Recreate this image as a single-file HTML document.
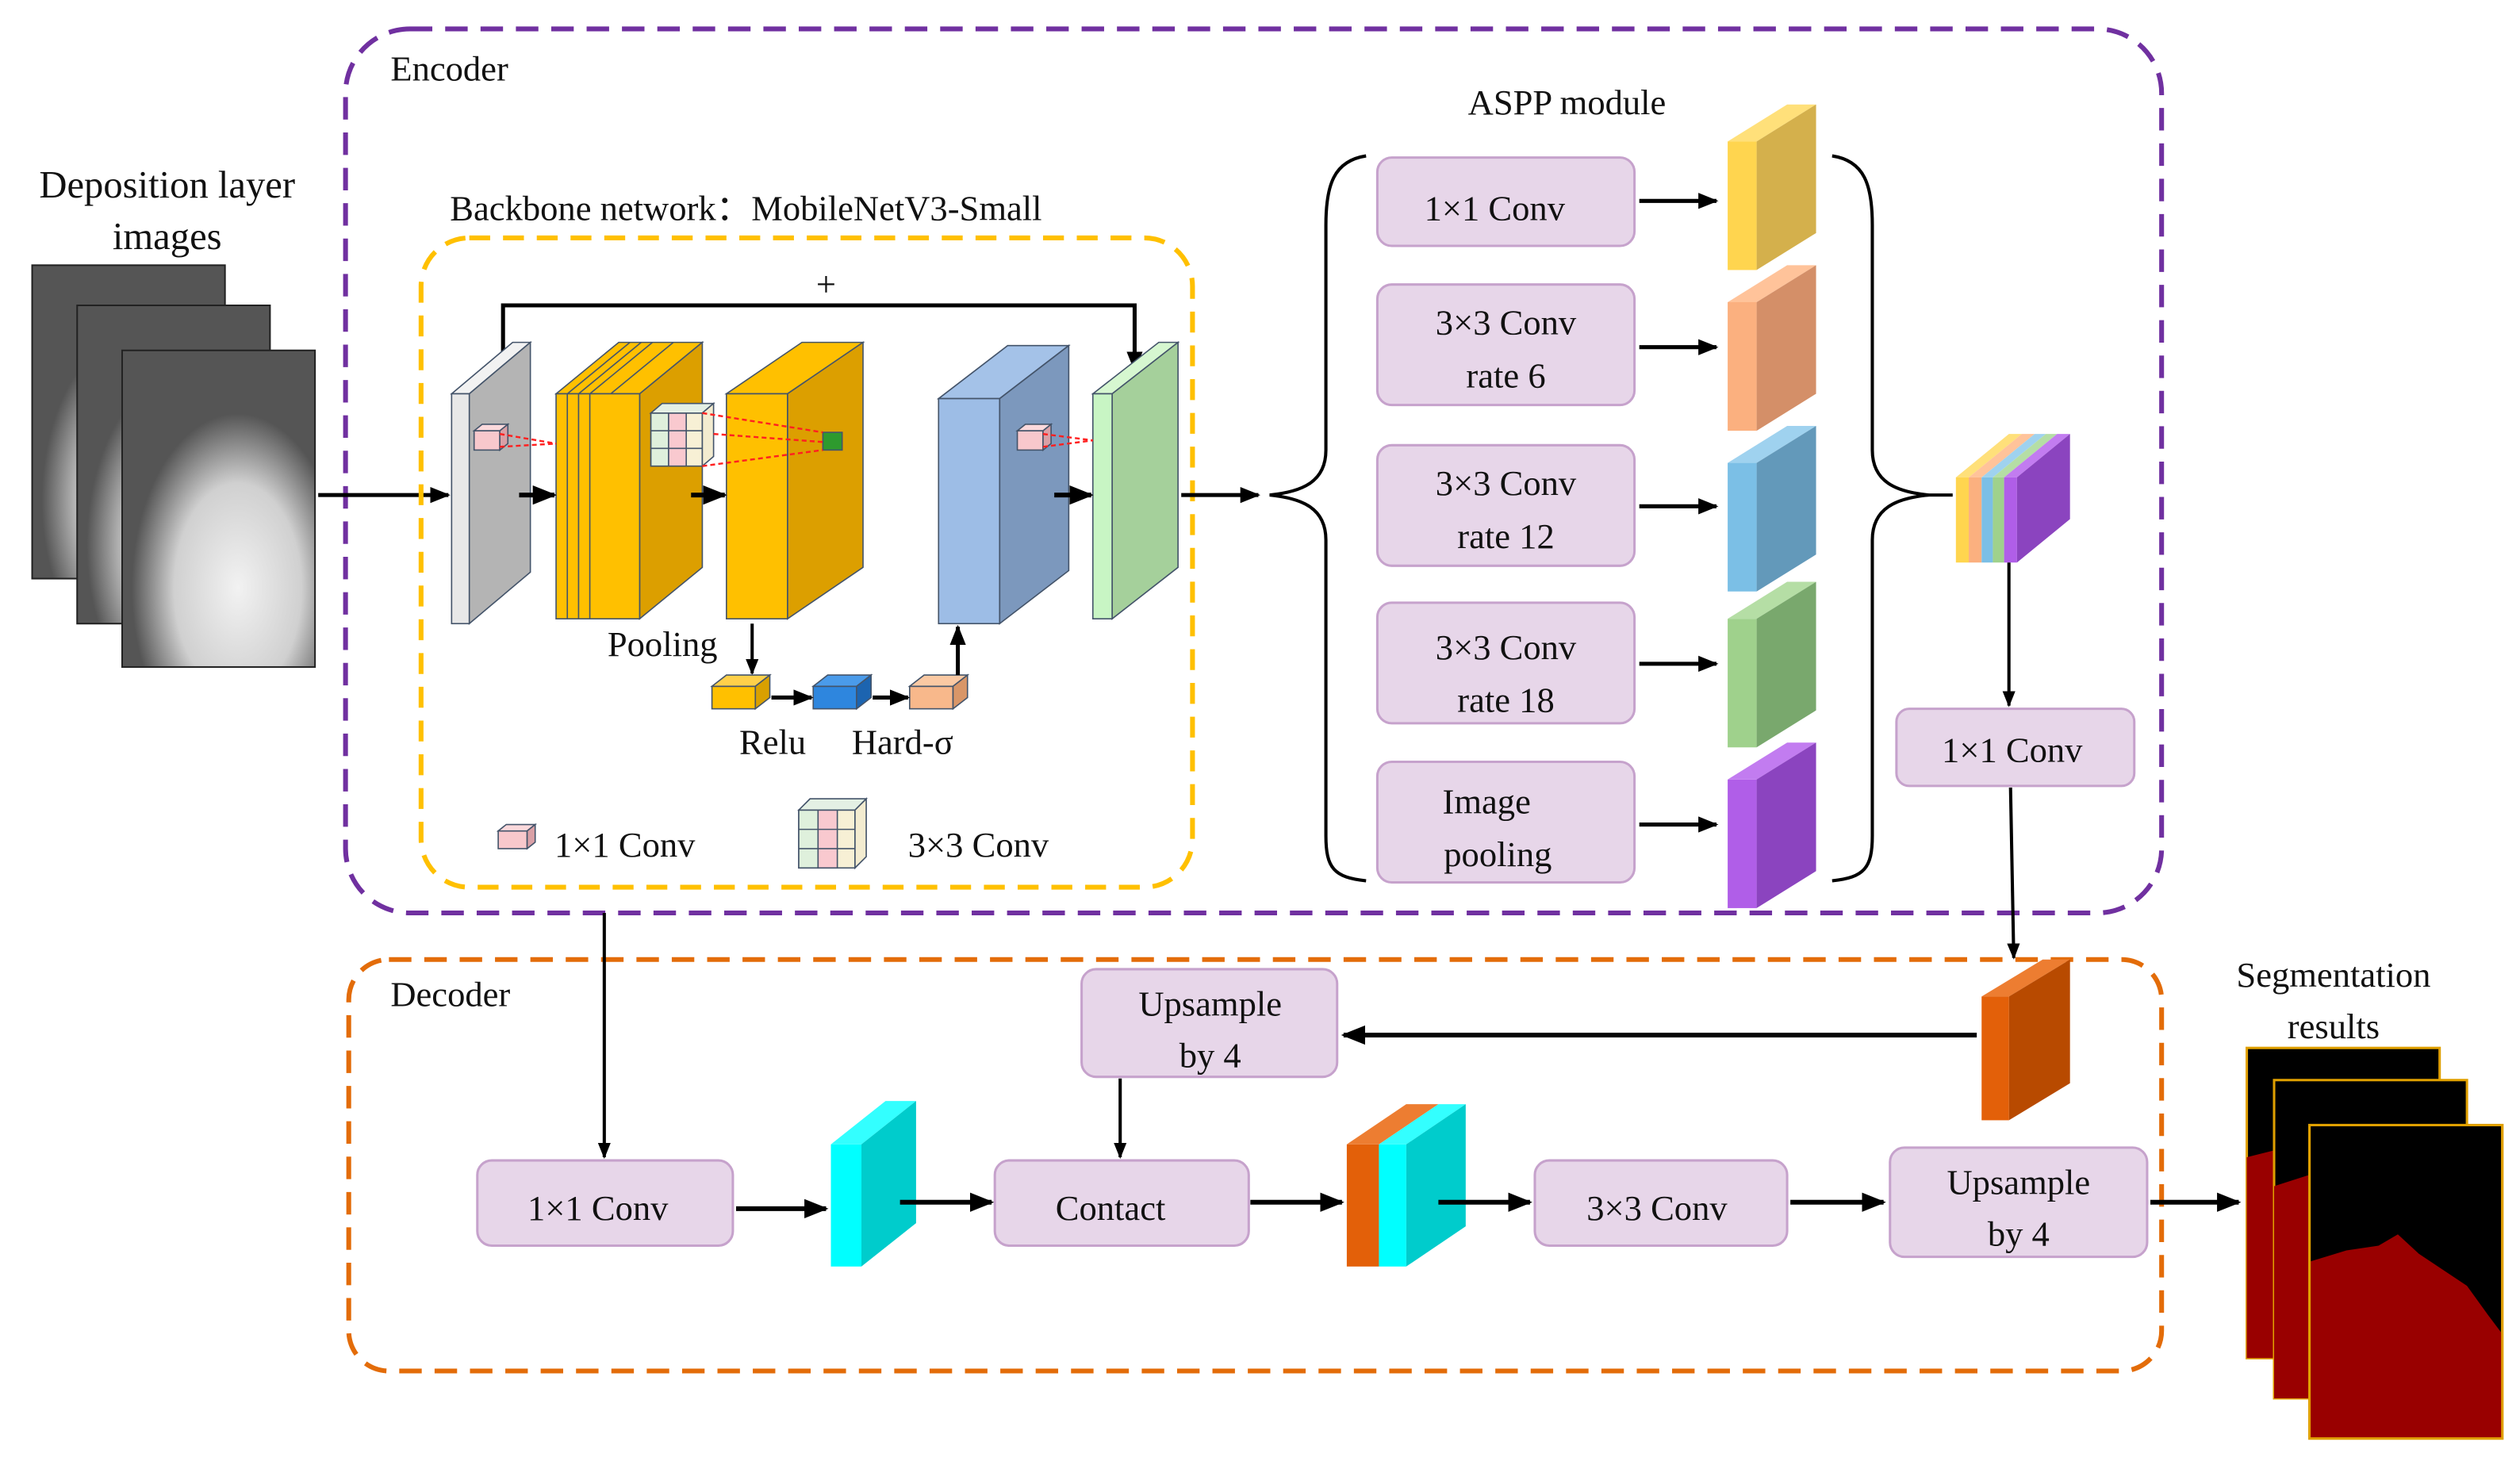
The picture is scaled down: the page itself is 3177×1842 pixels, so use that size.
<!DOCTYPE html>
<html><head><meta charset="utf-8"><style>
html,body{margin:0;padding:0;background:#fff;}
svg{display:block;}
svg text{font-family:"Liberation Serif","Times New Roman",Times,serif !important;fill:#111;}
</style></head><body>
<svg width="3177" height="1842" viewBox="0 0 1568 909" preserveAspectRatio="none" xmlns="http://www.w3.org/2000/svg" font-family="Liberation Serif, Times New Roman, serif">
<defs>
<marker id="a" viewBox="0 0 10 10" refX="9" refY="5" markerWidth="5" markerHeight="5" orient="auto"><path d="M0,1 L10,5 L0,9 z" fill="#000"/></marker>
<radialGradient id="blob" cx="0.6" cy="0.75" r="0.55"><stop offset="0" stop-color="#f2f2f2"/><stop offset="0.6" stop-color="#d0d0d0"/><stop offset="1" stop-color="#555"/></radialGradient>
</defs>

<rect x="215" y="18" width="1130" height="550" rx="40" fill="none" stroke="#7030a0" stroke-width="3" stroke-dasharray="14 8"/>
<text x="243" y="50" font-size="22" font-family="Liberation Serif, serif">Encoder</text>
<rect x="217" y="597" width="1128" height="256" rx="25" fill="none" stroke="#e36c09" stroke-width="3" stroke-dasharray="14 8"/>
<text x="243" y="626" font-size="22" font-family="Liberation Serif, serif">Decoder</text>

<g font-family="Liberation Serif, serif">
<text x="104" y="123" font-size="24" text-anchor="middle">Deposition layer</text>
<text x="104" y="155" font-size="24" text-anchor="middle">images</text>
</g>
<rect x="20" y="165" width="120" height="195" fill="url(#blob)" stroke="#222"/>
<rect x="48" y="190" width="120" height="198" fill="url(#blob)" stroke="#222"/>
<rect x="76" y="218" width="120" height="197" fill="url(#blob)" stroke="#222"/>
<line x1="198" y1="308" x2="279" y2="308" stroke="#000" stroke-width="2.5" marker-end="url(#a)"/>

<text x="280" y="137" font-size="22" font-family="Liberation Serif, serif">Backbone network：MobileNetV3-Small</text>
<rect x="262" y="148" width="480" height="404" rx="30" fill="none" stroke="#ffc000" stroke-width="3" stroke-dasharray="13 8"/>
<text x="514" y="184" font-size="22" text-anchor="middle" font-family="Liberation Serif, serif">+</text>
<polyline points="313,225 313,190 706,190 706,230" fill="none" stroke="#000" stroke-width="2.5" marker-end="url(#a)"/>

<g stroke="#44546a" stroke-width="0.8">
<polygon points="281,245 319,213 330,213 292,245" fill="#f2f2f2"/>
<polygon points="292,245 330,213 330,356 292,388" fill="#b4b4b4"/>
<rect x="281" y="245" width="11" height="143" fill="#e8e8e8"/>
<polygon points="346,245 385,213 437,213 398,245" fill="#ffc000"/>
<polygon points="398,245 437,213 437,353 398,385" fill="#dc9f00"/>
<rect x="346" y="245" width="52" height="140" fill="#ffc000"/>
<line x1="353" y1="245" x2="353" y2="385"/><line x1="360" y1="245" x2="360" y2="385"/><line x1="367" y1="245" x2="367" y2="385"/>
<line x1="353" y1="245" x2="392" y2="213"/><line x1="360" y1="245" x2="399" y2="213"/><line x1="367" y1="245" x2="406" y2="213"/><line x1="380" y1="245" x2="419" y2="213"/>
<polygon points="452,245 499,213 537,213 490,245" fill="#ffc000"/>
<polygon points="490,245 537,213 537,353 490,385" fill="#dc9f00"/>
<rect x="452" y="245" width="38" height="140" fill="#ffc000"/>
<polygon points="584,248 627,215 665,215 622,248" fill="#a4c2e8"/>
<polygon points="622,248 665,215 665,355 622,388" fill="#7c98bd"/>
<rect x="584" y="248" width="38" height="140" fill="#9dbde6"/>
<polygon points="680,245 721,213 733,213 692,245" fill="#d6f7d0"/>
<polygon points="692,245 733,213 733,353 692,385" fill="#a5d09b"/>
<rect x="680" y="245" width="12" height="140" fill="#c8f5c4"/>
<rect x="295" y="268" width="16" height="12" fill="#f8c8cc"/><polygon points="295,268 300,264 316,264 311,268" fill="#fbd9dc"/><polygon points="311,268 316,264 316,276 311,280" fill="#d9a0a6"/>
<rect x="633" y="268" width="16" height="12" fill="#f8c8cc"/><polygon points="633,268 638,264 654,264 649,268" fill="#fbd9dc"/><polygon points="649,268 654,264 654,276 649,280" fill="#d9a0a6"/>
<rect x="405" y="257" width="32" height="33" fill="#f7f0d5"/>
<rect x="405" y="257" width="11" height="33" fill="#dff0dc"/><rect x="416" y="257" width="11" height="33" fill="#f9c9cf"/>
<line x1="405" y1="268" x2="437" y2="268"/><line x1="405" y1="279" x2="437" y2="279"/>
<polygon points="405,257 412,251 444,251 437,257" fill="#e4f0e4"/>
<polygon points="437,257 444,251 444,284 437,290" fill="#f3ecd0"/>
<rect x="512" y="269" width="12" height="11" fill="#2e9a2e"/>
</g>
<g stroke="#ff2020" stroke-width="1.2" stroke-dasharray="3 2">
<line x1="311" y1="270" x2="346" y2="276"/><line x1="311" y1="278" x2="346" y2="276"/>
<line x1="437" y1="257" x2="512" y2="269"/><line x1="437" y1="290" x2="512" y2="280"/><line x1="444" y1="270" x2="512" y2="275"/>
<line x1="649" y1="270" x2="680" y2="274"/><line x1="649" y1="278" x2="680" y2="274"/>
</g>
<g stroke="#000" stroke-width="3" marker-end="url(#a)">
<line x1="323" y1="308" x2="345" y2="308"/><line x1="430" y1="308" x2="451" y2="308"/><line x1="656" y1="308" x2="679" y2="308"/>
</g>
<line x1="735" y1="308" x2="783" y2="308" stroke="#000" stroke-width="2.5" marker-end="url(#a)"/>

<text x="378" y="408" font-size="22" font-family="Liberation Serif, serif">Pooling</text>
<line x1="468" y1="388" x2="468" y2="419" stroke="#000" stroke-width="2" marker-end="url(#a)"/>
<g stroke="#44546a" stroke-width="0.8">
<rect x="443" y="427" width="27" height="14" fill="#ffc000"/><polygon points="443,427 452,420 479,420 470,427" fill="#ffd04a"/><polygon points="470,427 479,420 479,434 470,441" fill="#d9a000"/>
<rect x="506" y="427" width="27" height="14" fill="#2e86de"/><polygon points="506,427 515,420 542,420 533,427" fill="#4a9bea"/><polygon points="533,427 542,420 542,434 533,441" fill="#1c64b0"/>
<rect x="566" y="427" width="27" height="14" fill="#f8b88b"/><polygon points="566,427 575,420 602,420 593,427" fill="#fbc9a3"/><polygon points="593,427 602,420 602,434 593,441" fill="#d99668"/>
</g>
<g stroke="#000" stroke-width="2.5" marker-end="url(#a)">
<line x1="480" y1="434" x2="505" y2="434"/><line x1="543" y1="434" x2="565" y2="434"/>
<line x1="596" y1="420" x2="596" y2="390"/>
</g>
<g font-family="Liberation Serif, serif" font-size="22">
<text x="460" y="469">Relu</text>
<text x="530" y="469">Hard-σ</text>
</g>

<g stroke="#44546a" stroke-width="0.8">
<rect x="310" y="517" width="18" height="11" fill="#f8c8cc"/><polygon points="310,517 315,513 333,513 328,517" fill="#fbd9dc"/><polygon points="328,517 333,513 333,524 328,528" fill="#d9a0a6"/>
<rect x="497" y="504" width="35" height="36" fill="#f7f0d5"/>
<rect x="497" y="504" width="12" height="36" fill="#dff0dc"/><rect x="509" y="504" width="12" height="36" fill="#f9c9cf"/>
<line x1="497" y1="516" x2="532" y2="516"/><line x1="497" y1="528" x2="532" y2="528"/>
<polygon points="497,504 504,497 539,497 532,504" fill="#e4f0e4"/><polygon points="532,504 539,497 539,533 532,540" fill="#f3ecd0"/>
</g>
<g font-family="Liberation Serif, serif" font-size="22">
<text x="345" y="533">1×1 Conv</text>
<text x="565" y="533">3×3 Conv</text>
<text x="975" y="71" text-anchor="middle">ASPP module</text>
</g>

<path d="M850,97 C830,100 825,115 825,140 L825,280 C825,300 810,306 790,308 C810,310 825,316 825,336 L825,520 C825,540 830,546 850,548" fill="none" stroke="#000" stroke-width="2"/>
<path d="M1140,97 C1160,100 1165,115 1165,140 L1165,280 C1165,300 1180,306 1200,308 C1180,310 1165,316 1165,336 L1165,520 C1165,540 1160,546 1140,548" fill="none" stroke="#000" stroke-width="2"/>
<line x1="1198" y1="308" x2="1215" y2="308" stroke="#000" stroke-width="2"/>
<g fill="#e7d6e9" stroke="#c6a2cc" stroke-width="1.5">
<rect x="857" y="98" width="160" height="55" rx="9"/>
<rect x="857" y="177" width="160" height="75" rx="9"/>
<rect x="857" y="277" width="160" height="75" rx="9"/>
<rect x="857" y="375" width="160" height="75" rx="9"/>
<rect x="857" y="474" width="160" height="75" rx="9"/>
<rect x="1180" y="441" width="148" height="48" rx="8"/>
<rect x="673" y="603" width="159" height="67" rx="9"/>
<rect x="297" y="722" width="159" height="53" rx="9"/>
<rect x="619" y="722" width="158" height="53" rx="9"/>
<rect x="955" y="722" width="157" height="53" rx="9"/>
<rect x="1176" y="714" width="160" height="68" rx="9"/>
</g>
<g font-size="22" text-anchor="middle" font-family="Liberation Serif, serif">
<text x="930" y="137">1×1 Conv</text>
<text x="937" y="208">3×3 Conv</text><text x="937" y="241">rate 6</text>
<text x="937" y="308">3×3 Conv</text><text x="937" y="341">rate 12</text>
<text x="937" y="410">3×3 Conv</text><text x="937" y="443">rate 18</text>
<text x="925" y="506">Image</text><text x="932" y="539">pooling</text>
<text x="1252" y="474">1×1 Conv</text>
<text x="753" y="632">Upsample</text><text x="753" y="664">by 4</text>
<text x="372" y="759">1×1 Conv</text>
<text x="691" y="759">Contact</text>
<text x="1031" y="759">3×3 Conv</text>
<text x="1256" y="743">Upsample</text><text x="1256" y="775">by 4</text>
<text x="1452" y="614">Segmentation</text><text x="1452" y="646">results</text>
</g>
<g stroke="#000" stroke-width="2.5" marker-end="url(#a)">
<line x1="1020" y1="125" x2="1068" y2="125"/>
<line x1="1020" y1="216" x2="1068" y2="216"/>
<line x1="1020" y1="315" x2="1068" y2="315"/>
<line x1="1020" y1="413" x2="1068" y2="413"/>
<line x1="1020" y1="513" x2="1068" y2="513"/>
</g>
<g stroke="none">
<polygon points="1075,88 1112,65 1130,65 1093,88" fill="#ffe07a"/><polygon points="1093,88 1130,65 1130,145 1093,168" fill="#d4b04c"/><rect x="1075" y="88" width="18" height="80" fill="#ffd54f"/>
<polygon points="1075,188 1112,165 1130,165 1093,188" fill="#ffc39a"/><polygon points="1093,188 1130,165 1130,245 1093,268" fill="#d48f68"/><rect x="1075" y="188" width="18" height="80" fill="#fbb07f"/>
<polygon points="1075,288 1112,265 1130,265 1093,288" fill="#9fd2ef"/><polygon points="1093,288 1130,265 1130,345 1093,368" fill="#6399ba"/><rect x="1075" y="288" width="18" height="80" fill="#7bbfe6"/>
<polygon points="1075,385 1112,362 1130,362 1093,385" fill="#b5dea5"/><polygon points="1093,385 1130,362 1130,442 1093,465" fill="#79a86d"/><rect x="1075" y="385" width="18" height="80" fill="#9fd18c"/>
<polygon points="1075,485 1112,462 1130,462 1093,485" fill="#c27cf0"/><polygon points="1093,485 1130,462 1130,542 1093,565" fill="#8b44bf"/><rect x="1075" y="485" width="18" height="80" fill="#b05ee8"/>
<polygon points="1217,297 1250,270 1258,270 1225,297" fill="#ffe07a"/>
<polygon points="1225,297 1258,270 1266,270 1233,297" fill="#ffc39a"/>
<polygon points="1233,297 1266,270 1273,270 1240,297" fill="#9fd2ef"/>
<polygon points="1240,297 1273,270 1280,270 1247,297" fill="#b5dea5"/>
<polygon points="1247,297 1280,270 1288,270 1255,297" fill="#c27cf0"/>
<rect x="1217" y="297" width="8" height="53" fill="#ffd54f"/>
<rect x="1225" y="297" width="8" height="53" fill="#fbb07f"/>
<rect x="1233" y="297" width="7" height="53" fill="#7bbfe6"/>
<rect x="1240" y="297" width="7" height="53" fill="#9fd18c"/>
<rect x="1247" y="297" width="8" height="53" fill="#b05ee8"/>
<polygon points="1255,297 1288,270 1288,323 1255,350" fill="#8b44bf"/>
<polygon points="1233,620 1271,597 1288,597 1250,620" fill="#ed7d31"/><polygon points="1250,620 1288,597 1288,674 1250,697" fill="#b84a00"/><rect x="1233" y="620" width="17" height="77" fill="#e36009"/>
<polygon points="517,712 551,685 570,685 536,712" fill="#33ffff"/><polygon points="536,712 570,685 570,761 536,788" fill="#00cccc"/><rect x="517" y="712" width="19" height="76" fill="#00ffff"/>
<polygon points="838,712 875,687 895,687 858,712" fill="#ed7d31"/><rect x="838" y="712" width="20" height="76" fill="#e36009"/>
<polygon points="858,712 895,687 912,687 875,712" fill="#33ffff"/><polygon points="875,712 912,687 912,763 875,788" fill="#00cccc"/><rect x="858" y="712" width="17" height="76" fill="#00ffff"/>
</g>
<g stroke="#000" stroke-width="2" marker-end="url(#a)">
<line x1="1250" y1="350" x2="1250" y2="439"/>
<line x1="1251" y1="490" x2="1253" y2="596"/>
<line x1="376" y1="568" x2="376" y2="720"/>
<line x1="697" y1="671" x2="697" y2="720"/>
</g>
<g stroke="#000" stroke-width="3" marker-end="url(#a)">
<line x1="1230" y1="644" x2="836" y2="644"/>
<line x1="458" y1="752" x2="514" y2="752"/>
<line x1="560" y1="748" x2="617" y2="748"/>
<line x1="778" y1="748" x2="835" y2="748"/>
<line x1="895" y1="748" x2="952" y2="748"/>
<line x1="1114" y1="748" x2="1172" y2="748"/>
<line x1="1338" y1="748" x2="1393" y2="748"/>
</g>
<g stroke="#e0a000" stroke-width="1.5">
<rect x="1398" y="652" width="120" height="193" fill="#000"/>
<path d="M1398,720 L1430,712 L1450,722 L1470,715 L1500,730 L1518,740 L1518,845 L1398,845 Z" fill="#990000" stroke="none"/>
<rect x="1415" y="672" width="120" height="198" fill="#000"/>
<path d="M1415,738 L1440,730 L1470,745 L1500,740 L1535,760 L1535,870 L1415,870 Z" fill="#990000" stroke="none"/>
<rect x="1437" y="700" width="120" height="195" fill="#000"/>
<path d="M1437,785 L1460,778 L1480,775 L1492,768 L1505,780 L1520,790 L1535,800 L1548,818 L1557,830 L1557,895 L1437,895 Z" fill="#990000" stroke="none"/>
<rect x="1437" y="700" width="120" height="195" fill="none"/>
</g>
</svg>
</body></html>
